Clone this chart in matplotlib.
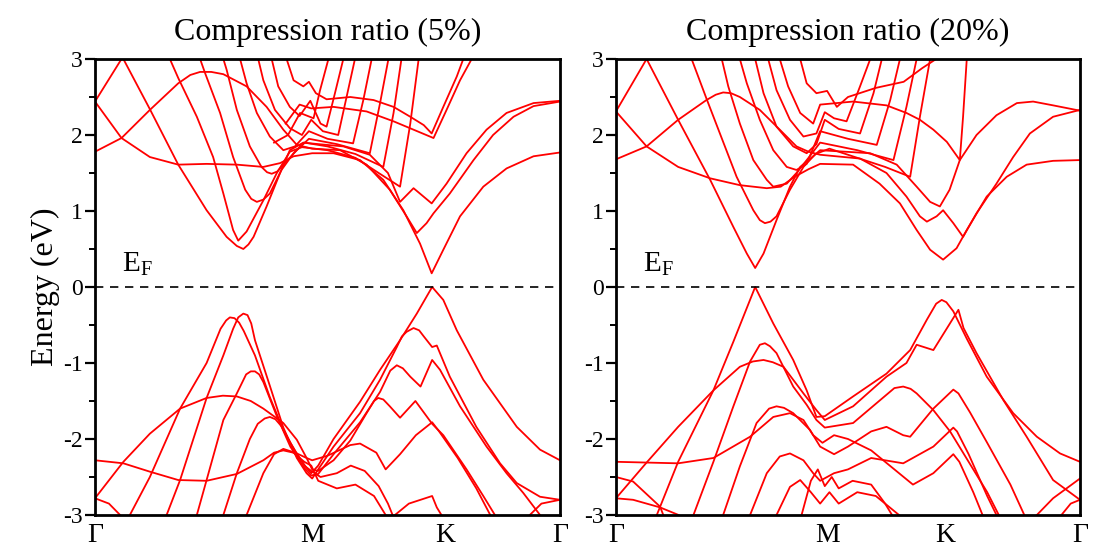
import numpy as np
import matplotlib
matplotlib.use("Agg")
import matplotlib.pyplot as plt

plt.rcParams['font.family'] = ['Liberation Serif', 'DejaVu Serif']
plt.rcParams['mathtext.fontset'] = 'custom'
plt.rcParams['mathtext.rm'] = 'Liberation Serif'

# k in % of the path Gamma-M-K-Gamma, energy in eV
titles = ['Compression ratio (5%)', 'Compression ratio (20%)']
left_ticks = [0, 46.7, 75.3, 100]
right_ticks = [0, 45.5, 70.9, 100]
tick_names = ['Γ', 'M', 'K', 'Γ']

left_cond = [
    [(0, 2.44), (5.7, 3.0)],
    [(0, 2.44), (5.7, 1.96), (11.8, 1.71), (17.9, 1.61), (24.0, 1.62), (30.5, 1.61), (36.2, 1.58), (39.8, 1.63),
     (42.7, 1.72), (46.7, 1.76), (51.3, 1.76), (57.0, 1.67), (62.0, 1.41), (66.3, 1.01), (69.9, 0.57), (72.4, 0.18),
     (74.9, 0.49), (78.5, 0.93), (83.5, 1.32), (88.5, 1.56), (94.3, 1.72), (100, 1.77)],
    [(0, 1.78), (5.7, 1.96), (11.8, 2.33), (17.9, 2.68), (20.5, 2.79), (22.6, 2.83), (25.0, 2.83), (27.6, 2.80),
     (32.6, 2.64), (36.9, 2.37), (40.5, 2.07), (43.4, 1.87), (46.7, 1.82), (52.7, 1.80), (58.4, 1.61), (63.4, 1.28),
     (67.0, 0.93), (69.2, 0.71), (71.3, 0.84), (72.8, 0.97), (76.3, 1.23), (81.4, 1.67), (85.6, 2.00),
     (90.0, 2.24), (94.3, 2.38), (100, 2.44)],
    [(6.1, 3.0), (11.8, 2.34), (17.9, 1.61), (24.0, 1.01), (28.3, 0.66), (30.5, 0.54), (31.9, 0.50), (33.0, 0.56),
     (34.1, 0.66), (36.9, 1.06), (39.8, 1.50), (41.9, 1.80), (44.8, 1.90), (48.0, 1.88), (53.4, 1.85), (59.1, 1.74),
     (63.0, 1.50), (65.6, 1.12), (68.5, 1.30), (72.4, 1.10), (75.6, 1.36), (79.9, 1.76), (84.2, 2.07),
     (88.5, 2.29), (94.3, 2.42), (100, 2.45)],
    [(16.1, 3.0), (17.9, 2.75), (21.9, 2.24), (25.4, 1.71), (27.6, 1.23), (29.7, 0.75), (30.8, 0.61), (32.6, 0.73),
     (36.2, 1.14), (39.1, 1.50), (41.9, 1.78), (44.5, 1.84), (50, 1.80), (56, 1.70), (61, 1.50), (65.6, 1.32),
     (67.8, 2.15), (69.6, 3.0)],
    [(22.6, 3.0), (23.7, 2.81), (26.9, 2.29), (29.7, 1.71), (32.3, 1.28), (33.6, 1.16), (34.8, 1.12), (36.2, 1.15),
     (37.6, 1.23), (40.1, 1.54), (42.7, 1.76), (45, 1.90), (50, 1.85), (56, 1.75), (62.0, 1.58), (64.2, 2.29),
     (65.9, 3.0)],
    [(27.6, 3.0), (28.3, 2.86), (30.5, 2.33), (33.3, 1.85), (35.8, 1.58), (37.0, 1.51), (38.0, 1.49), (39.2, 1.52),
     (40.5, 1.61), (43.4, 1.80), (46, 1.95), (52, 1.88), (59.1, 1.76), (61.3, 2.42), (63.1, 3.0)],
    [(31.2, 3.0), (32.6, 2.68), (34.8, 2.29), (37.6, 1.98), (40.5, 1.80), (43, 1.85), (46, 2.05), (50, 1.95),
     (55.5, 1.89), (57.7, 2.46), (59.5, 3.0)],
    [(35.1, 3.0), (36.2, 2.72), (38.7, 2.33), (41.9, 2.09), (44.5, 2.0), (46.5, 2.2), (49, 2.05), (52.3, 2.0),
     (54.1, 2.50), (55.9, 3.0)],
    [(38.0, 3.0), (39.4, 2.64), (41.9, 2.37), (44.0, 2.25), (46.3, 2.45), (48.5, 2.15), (49.8, 2.11), (51.6, 2.55),
     (53.4, 3.0)],
    [(41.2, 3.0), (42.7, 2.72), (44.8, 2.64), (46.0, 2.70), (47.5, 2.55), (49.8, 2.47), (54.9, 2.50), (59.9, 2.46),
     (64.2, 2.37), (67.8, 2.24), (70.7, 2.13), (72.4, 2.02), (74.9, 2.37), (77.8, 2.77), (79.2, 3.0)],
    [(38.5, 1.9), (41.5, 2.0), (44.1, 2.29), (47.0, 2.22), (48.4, 2.59), (50.2, 3.0)],
    [(41, 2.15), (44, 2.40), (46.5, 2.35), (51.3, 2.37), (58.4, 2.31), (64.2, 2.18), (68.5, 2.07), (72.8, 1.96),
     (75.6, 2.33), (78.5, 2.72), (81.0, 3.0)],
]

left_val = [
    [(0, -2.78), (3, -2.85), (5.4, -3.0)],
    [(0, -2.28), (6.1, -2.32), (11.8, -2.43), (17.9, -2.54), (24.0, -2.55), (30.5, -2.46), (36.2, -2.28),
     (38.5, -2.18), (40.5, -2.15), (43.4, -2.19), (45.5, -2.25), (46.7, -2.28), (50, -2.22), (54.9, -2.08),
     (57.0, -2.06), (60.5, -2.18), (62.5, -2.4), (65.6, -2.2), (69, -1.95), (72.5, -1.78), (74, -1.9),
     (78, -2.25), (82, -2.65), (85, -3.0)],
    [(0, -2.78), (6.1, -2.30), (11.8, -1.93), (18.3, -1.60), (24.0, -1.46), (27.5, -1.43), (30.5, -1.44),
     (33.5, -1.50), (36.2, -1.60), (40.5, -1.79), (43.4, -2.01), (45.5, -2.25), (46.7, -2.40), (48, -2.42),
     (51.3, -2.28), (54.9, -2.02), (58.4, -1.66), (60.0, -1.50), (60.9, -1.46), (62.0, -1.48), (63.4, -1.57),
     (65.6, -1.72), (68.9, -1.50), (72.5, -1.80), (74.9, -1.95), (79.9, -2.4), (83.5, -2.75), (86, -3.0)],
    [(7.5, -3.0), (11.8, -2.50), (18.3, -1.60), (24.0, -1.0), (27.0, -0.55), (28.2, -0.44), (29.0, -0.40),
     (30.0, -0.41), (31.0, -0.47), (32.0, -0.58), (34.4, -0.90), (37.6, -1.45), (40.5, -1.88), (43.4, -2.20),
     (45.5, -2.38), (46.5, -2.45), (48, -2.35), (51.3, -2.00), (57.0, -1.51), (61.3, -1.09), (65.6, -0.70),
     (69.2, -0.35), (72.5, 0.0), (74.9, -0.17), (77.8, -0.57), (83.5, -1.22), (90.7, -1.84), (95.7, -2.14),
     (100, -2.28)],
    [(15.4, -3.0), (18.3, -2.54), (24.0, -1.46), (27.6, -0.90), (29.7, -0.55), (30.8, -0.40), (31.9, -0.35),
     (32.8, -0.37), (33.6, -0.48), (34.4, -0.70), (37.6, -1.30), (40.5, -1.85), (43.4, -2.25), (45.5, -2.45),
     (46.7, -2.52), (48, -2.40), (51.3, -2.10), (57.0, -1.66), (61.3, -1.22), (64.9, -0.79), (66.0, -0.65),
     (67.0, -0.59), (68.5, -0.54), (69.7, -0.57), (70.7, -0.65), (72.5, -0.79), (73.5, -0.77), (76.3, -1.18),
     (82.0, -1.84), (87.1, -2.32), (90.7, -2.58), (95.7, -2.76), (100, -2.80)],
    [(21.9, -3.0), (24.0, -2.54), (27.6, -1.75), (30.5, -1.40), (32.5, -1.15), (33.5, -1.11), (34.4, -1.11),
     (35.3, -1.15), (36.2, -1.25), (39.1, -1.70), (42.0, -2.10), (45.0, -2.38), (46.5, -2.48), (48, -2.46),
     (51.3, -2.20), (57.0, -1.78), (61.3, -1.38), (63.5, -1.10), (64.9, -1.03), (66.2, -1.07), (67.8, -1.18),
     (70.0, -1.31), (72.5, -0.96), (74.2, -1.09), (78.5, -1.57), (84.2, -2.10), (88.5, -2.45), (92.1, -2.71),
     (95.7, -3.0)],
    [(27.6, -3.0), (30.5, -2.45), (33.3, -2.0), (35.0, -1.80), (36.5, -1.73), (37.6, -1.71), (38.8, -1.74),
     (40.2, -1.84), (42.0, -2.05), (45.0, -2.35), (46.5, -2.42), (48.5, -2.50), (52, -2.45), (55, -2.35),
     (58, -2.42), (61, -2.62), (63, -2.85), (64, -3.0)],
    [(32.6, -3.0), (36.2, -2.45), (38.5, -2.20), (40.5, -2.13), (42.5, -2.17), (45.0, -2.30), (46.5, -2.35),
     (48, -2.55), (52, -2.65), (56, -2.60), (60, -2.75), (62.5, -3.0)],
    [(64.5, -3.0), (67.5, -2.85), (70, -2.8), (72.5, -2.75), (73.5, -2.9), (74.5, -3.0)],
    [(93.5, -3.0), (96, -2.85), (100, -2.80)],
]

right_cond = [
    [(0, 2.31), (6.6, 3.0)],
    [(0, 2.31), (6.6, 1.85), (13.4, 1.58), (20.3, 1.43), (26.7, 1.34), (32.5, 1.30), (35.5, 1.32), (38.5, 1.45),
     (41.5, 1.55), (44, 1.62), (51.1, 1.61), (56.8, 1.36), (61.2, 1.10), (64.8, 0.75), (67.7, 0.49), (70.5, 0.36),
     (73.4, 0.51), (75.6, 0.75), (79.9, 1.19), (84.2, 1.45), (88.5, 1.61), (94.2, 1.66), (100, 1.67)],
    [(0, 1.68), (6.6, 1.85), (13.4, 2.20), (19.5, 2.46), (21.5, 2.53), (23.1, 2.56), (24.8, 2.55), (26.7, 2.50),
     (31.0, 2.33), (35.3, 2.07), (38.9, 1.85), (41.5, 1.78), (44, 1.74), (52.6, 1.69), (58.3, 1.50), (62.6, 1.19),
     (65.5, 0.93), (67.0, 0.86), (69.1, 0.93), (70.5, 1.01), (72.7, 0.84), (74.8, 0.66), (77.7, 0.97),
     (82.0, 1.36), (85.6, 1.71), (89.2, 2.02), (94.2, 2.24), (100, 2.33)],
    [(6.6, 3.0), (13.4, 2.20), (20.3, 1.41), (25.3, 0.79), (28.2, 0.44), (30.0, 0.25), (31.8, 0.44), (34.6, 0.88),
     (37.5, 1.32), (39.7, 1.58), (42.5, 1.72), (44, 1.80), (54.8, 1.76), (60.5, 1.61), (64.8, 1.32), (67.7, 1.12),
     (69.8, 1.06), (71.9, 1.28), (74.1, 1.67), (74.8, 2.24), (75.6, 3.0)],
    [(16.3, 3.0), (19.5, 2.48), (22.4, 2.02), (26.0, 1.45), (29.6, 1.01), (31.0, 0.88), (32.1, 0.84), (33.3, 0.86),
     (34.6, 0.93), (37.5, 1.28), (40.4, 1.58), (43, 1.75), (46, 1.82), (52, 1.70), (58, 1.58), (63.4, 1.45),
     (65.5, 2.24), (67.7, 3.0)],
    [(22.8, 3.0), (24.2, 2.64), (26.7, 2.15), (29.6, 1.67), (32.5, 1.41), (33.9, 1.32), (36.8, 1.36), (38.9, 1.50),
     (41.5, 1.70), (44, 1.90), (52, 1.80), (59.8, 1.67), (62.6, 2.37), (64.8, 3.0)],
    [(26.7, 3.0), (28.2, 2.68), (31.0, 2.20), (33.9, 1.80), (36.8, 1.58), (38.9, 1.54), (41.1, 1.62), (44, 2.05),
     (50, 1.95), (56.2, 1.87), (59.1, 2.46), (61.2, 3.0)],
    [(30.0, 3.0), (31.8, 2.55), (34.6, 2.11), (38.2, 1.85), (41.1, 1.76), (43.2, 1.88), (45, 2.20), (48, 2.08),
     (52.6, 2.02), (55.5, 2.55), (57.3, 3.0)],
    [(32.8, 3.0), (34.6, 2.59), (37.5, 2.20), (40.4, 1.98), (43.2, 2.02), (45, 2.30), (47, 2.22), (49.7, 2.18),
     (52.6, 2.64), (54.8, 3.0)],
    [(35.3, 3.0), (37.1, 2.64), (39.7, 2.29), (42.5, 2.15), (44, 2.40), (51.1, 2.44), (58.3, 2.39), (62.6, 2.29),
     (65.5, 2.20), (68.4, 2.07), (71.3, 1.91), (74.1, 1.67), (77.7, 2.0), (82.0, 2.26), (86.4, 2.42), (89.9, 2.44),
     (94.2, 2.39), (100, 2.32)],
    [(39.7, 3.0), (41.1, 2.68), (43.2, 2.55), (45.5, 2.58), (47.6, 2.37), (50, 2.50), (56, 2.62), (62, 2.70),
     (66, 2.88), (69, 3.0)],
]

right_val = [
    [(8.8, -3.0), (13.4, -2.30), (21.0, -1.36), (25.3, -0.72), (30.0, 0.0), (33.9, -0.48), (38.2, -0.96),
     (41.1, -1.36), (43.2, -1.71), (45, -1.70), (51.1, -1.44), (58.3, -1.14), (63.4, -0.83), (67.0, -0.43),
     (69.0, -0.22), (70.2, -0.17), (71.2, -0.20), (72.7, -0.32), (75.6, -0.68), (79.9, -1.18), (85.6, -1.66),
     (90.7, -1.97), (95.7, -2.19), (100, -2.30)],
    [(0, -2.78), (6.6, -2.31), (13.4, -1.84), (21.0, -1.36), (26.7, -1.05), (29.5, -0.98), (31.8, -0.96),
     (33.8, -0.99), (36.1, -1.05), (40.4, -1.40), (43.2, -1.62), (45, -1.75), (51.1, -1.57), (58.3, -1.18),
     (62.6, -1.0), (64.8, -0.76), (68.4, -0.83), (73.8, -0.30), (74.9, -0.54), (77.7, -0.87), (83.5, -1.49),
     (88.5, -1.97), (94.2, -2.54), (100, -2.80)],
    [(16.7, -3.0), (21.0, -2.30), (25.3, -1.57), (28.9, -0.98), (31.0, -0.76), (32.1, -0.74), (33.2, -0.78),
     (34.6, -0.87), (38.2, -1.31), (41.1, -1.55), (43.2, -1.75), (45, -1.85), (51.1, -1.79), (56.9, -1.49),
     (60.0, -1.33), (61.9, -1.31), (63.5, -1.34), (64.8, -1.40), (68.4, -1.62), (72.0, -1.90), (76, -2.30),
     (80, -2.70), (82.5, -3.0)],
    [(23.1, -3.0), (26.7, -2.36), (30.3, -1.79), (33.0, -1.60), (34.6, -1.57), (36.2, -1.59), (38.2, -1.66),
     (41.8, -1.88), (44, -2.10), (47, -2.2), (50, -2.1), (55, -1.90), (58.3, -1.84), (61.9, -1.95), (63.4, -1.97),
     (68.4, -1.60), (72.7, -1.35), (73.8, -1.40), (76.3, -1.65), (80, -2.05), (85, -2.60), (88, -3.0)],
    [(28.9, -3.0), (32.5, -2.45), (35.3, -2.23), (37.5, -2.19), (40.4, -2.28), (42.5, -2.45), (44, -2.55),
     (47, -2.45), (50, -2.40), (55, -2.25), (61.9, -2.32), (68.4, -2.10), (72.7, -1.85), (73.5, -1.90),
     (76, -2.20), (80, -2.75), (82, -3.0)],
    [(0, -2.30), (6.6, -2.31), (13.4, -2.32), (21.0, -2.25), (28.9, -1.97), (33.9, -1.71), (37.5, -1.66),
     (40.4, -1.75), (42.5, -1.95), (44.5, -2.05), (47, -1.95), (50, -2.0), (55, -2.15), (60, -2.4), (64, -2.6),
     (68.4, -2.45), (72.7, -2.2), (74, -2.3), (77, -2.7), (79, -3.0)],
    [(0, -2.50), (3.7, -2.56), (9.5, -2.89), (10.2, -3.0)],
    [(0, -2.78), (3.7, -2.80), (9.5, -2.90), (13.5, -3.0)],
    [(34.6, -3.0), (37.5, -2.63), (39.7, -2.54), (42, -2.7), (44, -2.85), (46, -2.7), (48, -2.85), (52, -2.7),
     (56, -2.75), (60, -2.95), (61, -3.0)],
    [(40, -3.0), (42, -2.55), (43.5, -2.40), (45, -2.62), (46.5, -2.50), (48, -2.65), (51, -2.55), (55, -2.60),
     (58, -2.85), (59.5, -3.0)],
    [(90.7, -3.0), (94.2, -2.78), (100, -2.52)],
    [(96, -3.0), (98, -2.85), (100, -2.80)],
]

fig = plt.figure(figsize=(10.97, 5.54), dpi=100)
ax_l = fig.add_axes([0.0866, 0.0704, 0.4239, 0.8231])
ax_r = fig.add_axes([0.5615, 0.0704, 0.4230, 0.8231])

panels = [
    (ax_l, left_cond + left_val, left_ticks, titles[0]),
    (ax_r, right_cond + right_val, right_ticks, titles[1]),
]

for ax, bands, ticks, title in panels:
    for band in bands:
        b = np.array(band)
        ax.plot(b[:, 0], b[:, 1], color='#ff0000', lw=1.3, solid_joinstyle='round')
    ax.axhline(0, color='k', ls=(0, (5, 4)), lw=1.2)
    ax.set_xlim(0, 100)
    ax.set_ylim(-3, 3)
    ax.set_xticks(ticks)
    ax.set_xticklabels(tick_names, fontsize=20)
    ax.tick_params(axis='x', length=0, pad=6)
    ax.set_yticks(range(-3, 4))
    ax.set_yticklabels([str(v) for v in range(-3, 4)], fontsize=17)
    ax.set_yticks(np.arange(-2.5, 3, 1.0), minor=True)
    ax.tick_params(axis='y', which='major', direction='out', length=7, width=1.6, pad=2)
    ax.tick_params(axis='y', which='minor', direction='out', length=4, width=1.4)
    for s in ax.spines.values():
        s.set_linewidth(2.0)
    ax.set_title(title, fontsize=23, pad=14)
    ax.text(5.8, 0.2, r'$\mathrm{E_F}$', fontsize=21, ha='left', va='baseline')

ax_l.set_ylabel('Energy (eV)', fontsize=23, labelpad=2)

fig.savefig('out.png', dpi=100)
